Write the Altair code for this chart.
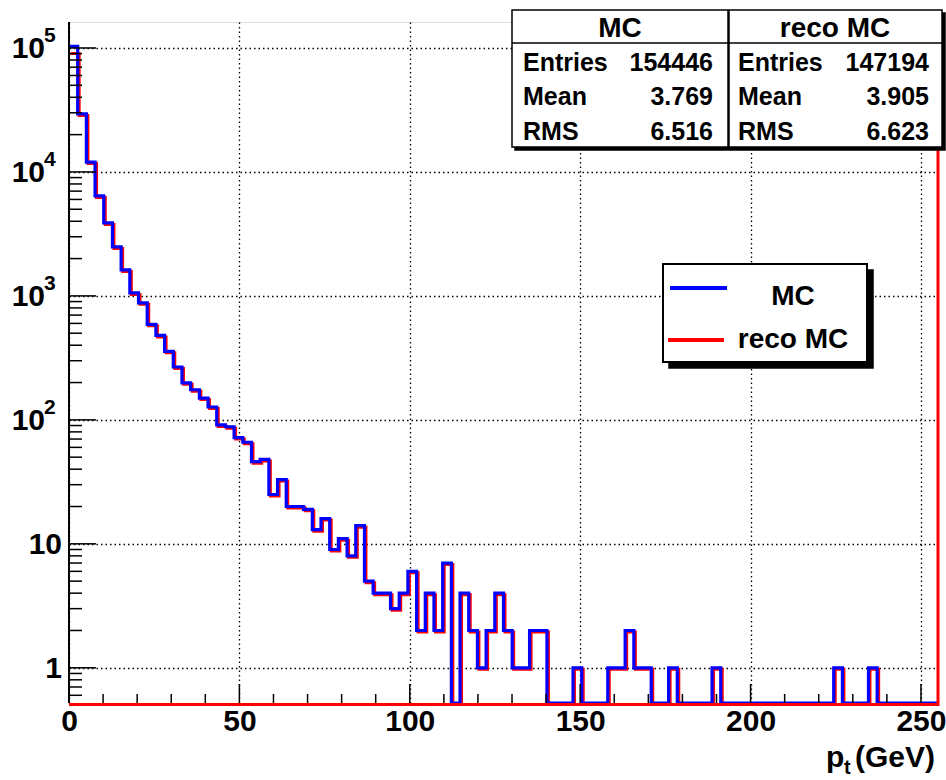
import altair as alt
import pandas as pd
import numpy as np

# ---------------- data ----------------
X_LO, X_HI, N_BINS = 0.0, 255.0, 100
Y_MIN, Y_MAX = 0.52, 1.62e5

mc_counts = [103000, 29400, 12000, 6400, 3880, 2485, 1620, 1057, 879, 590,
             480, 357, 267, 199, 175, 150, 127, 91, 88, 72,
             66, 46, 48, 25, 33, 20, 20, 19, 13, 16,
             9, 11, 8, 14, 5, 4, 4, 3, 4, 6,
             2, 4, 2, 7, 0, 4, 2, 1, 2, 4,
             2, 1, 1, 2, 2, 0, 0, 0, 1, 0,
             0, 0, 1, 1, 2, 1, 1, 0, 0, 1,
             0, 0, 0, 0, 1, 0, 0, 0, 0, 0,
             0, 0, 0, 0, 0, 0, 0, 0, 1, 0,
             0, 0, 1, 0, 0, 0, 0, 0, 0, 0]
reco_counts = [93000] + mc_counts[1:]

series_names = ["MC", "reco MC"]
series_colors = ["#0000ff", "#ff0000"]
stat_labels = ["Entries", "Mean", "RMS"]
mc_stats = ["154446", "3.769", "6.516"]
reco_stats = ["147194", "3.905", "6.623"]

x_major = [0, 50, 100, 150, 200, 250]
x_minor = [v for v in range(10, 255, 10) if v % 50 != 0]
y_major = [1, 10, 100, 1000, 10000, 100000]
y_minor = [k * 10.0 ** e for e in range(-1, 5) for k in range(2, 10)
           if Y_MIN <= k * 10.0 ** e <= Y_MAX]
y_exp = {100: "2", 1000: "3", 10000: "4", 100000: "5"}

FONT = "Liberation Sans"
W, H = 869, 681
PAD_L, PAD_T = 69, 22

edges = np.linspace(X_LO, X_HI, N_BINS + 1)


def step_frame(counts):
    xs, ys = [], []
    for i, c in enumerate(counts):
        v = c if c > 0 else Y_MIN
        xs += [edges[i], edges[i + 1]]
        ys += [v, v]
    xs.append(edges[-1])
    ys.append(Y_MIN)
    return pd.DataFrame({"x": xs, "y": ys, "i": range(len(xs))})


xscale = alt.Scale(domain=[X_LO, X_HI], nice=False, zero=False)
yscale = alt.Scale(type="log", domain=[Y_MIN, Y_MAX], nice=False)

grid_kw = dict(grid=True, gridDash=[1.5, 3], gridColor="black", gridWidth=1.3, gridOpacity=1)
xaxis = alt.Axis(values=x_major, ticks=False, domain=False, title=None, format="d",
                 labelFont=FONT, labelFontSize=30, labelFontWeight="bold", labelColor="black",
                 labelPadding=3, labelFlush=False, labelOverlap=False, **grid_kw)
yaxis = alt.Axis(values=y_major, ticks=False, domain=False, title=None, labels=False, **grid_kw)

red = alt.Chart(step_frame(reco_counts)).mark_line(
    color=series_colors[1], strokeWidth=3, xOffset=1.5, yOffset=1.5
).encode(
    x=alt.X("x:Q", scale=xscale, axis=xaxis),
    y=alt.Y("y:Q", scale=yscale, axis=yaxis),
    order="i:Q",
)
blue = alt.Chart(step_frame(mc_counts)).mark_line(
    color=series_colors[0], strokeWidth=3.2
).encode(
    x=alt.X("x:Q", scale=xscale),
    y=alt.Y("y:Q", scale=yscale),
    order="i:Q",
)

one = pd.DataFrame({"t": [""]})

red_bottom = alt.Chart(one).mark_rule(color="#ff0000", strokeWidth=3).encode(
    x=alt.value(0), x2=alt.value(W), y=alt.value(H + 1.5))
red_right = alt.Chart(pd.DataFrame({"x": [X_HI]})).mark_rule(color="#ff0000", strokeWidth=3).encode(
    x=alt.X("x:Q", scale=xscale), y=alt.value(0), y2=alt.value(H))

# ticks (inside)
ymaj_t = alt.Chart(pd.DataFrame({"v": y_major})).mark_rule(color="black", strokeWidth=1.5).encode(
    y=alt.Y("v:Q", scale=yscale), x=alt.value(0), x2=alt.value(27))
ymin_t = alt.Chart(pd.DataFrame({"v": y_minor})).mark_rule(color="black", strokeWidth=1.5).encode(
    y=alt.Y("v:Q", scale=yscale), x=alt.value(0), x2=alt.value(13))
xmaj_t = alt.Chart(pd.DataFrame({"v": x_major})).mark_rule(color="black", strokeWidth=1.5).encode(
    x=alt.X("v:Q", scale=xscale), y=alt.value(H), y2=alt.value(H - 19))
xmin_t = alt.Chart(pd.DataFrame({"v": x_minor})).mark_rule(color="black", strokeWidth=1.5).encode(
    x=alt.X("v:Q", scale=xscale), y=alt.value(H), y2=alt.value(H - 9))

left_axis = alt.Chart(one).mark_rule(color="black", strokeWidth=2).encode(
    x=alt.value(0), y=alt.value(0), y2=alt.value(H))

# y labels
ylab_df = pd.DataFrame({
    "v": y_major,
    "base": ["1" if v == 1 else "10" for v in y_major],
    "exp": [y_exp.get(v, "") for v in y_major],
})
ylab_plain = alt.Chart(ylab_df).transform_filter("datum.exp == ''").mark_text(
    align="right", baseline="middle", font=FONT, fontSize=30, fontWeight="bold", color="black", dy=1
).encode(y=alt.Y("v:Q", scale=yscale), x=alt.value(-7), text="base:N")
ylab_base = alt.Chart(ylab_df).transform_filter("datum.exp != ''").mark_text(
    align="right", baseline="middle", font=FONT, fontSize=30, fontWeight="bold", color="black", dy=1
).encode(y=alt.Y("v:Q", scale=yscale), x=alt.value(-24), text="base:N")
ylab_exp = alt.Chart(ylab_df).transform_filter("datum.exp != ''").mark_text(
    align="left", baseline="middle", font=FONT, fontSize=21, fontWeight="bold", color="black", dy=-12
).encode(y=alt.Y("v:Q", scale=yscale), x=alt.value(-25), text="exp:N")


def txt(s, x, y, size=25, align="left", baseline="middle", color="black"):
    return alt.Chart(pd.DataFrame({"t": [s]})).mark_text(
        align=align, baseline=baseline, font=FONT, fontSize=size, fontWeight="bold", color=color
    ).encode(text="t:N", x=alt.value(x), y=alt.value(y))


def box(x1, y1, x2, y2, fill="white", stroke="black", sw=1.5):
    return alt.Chart(one).mark_rect(fill=fill, stroke=stroke, strokeWidth=sw).encode(
        x=alt.value(x1), x2=alt.value(x2), y=alt.value(y1), y2=alt.value(y2))


def hline(x1, x2, y, color="black", sw=1.5):
    return alt.Chart(one).mark_rule(color=color, strokeWidth=sw).encode(
        x=alt.value(x1), x2=alt.value(x2), y=alt.value(y))


# axis title p_t(GeV)
title_layers = [
    txt("(GeV)", 866, 745, size=30, align="right", baseline="alphabetic"),
    txt("t", 775, 752, size=20, align="left", baseline="alphabetic"),
    txt("p", 757, 745, size=30, align="left", baseline="alphabetic"),
]

# stat boxes
stats = [box(446, -9, 876, 128, fill="black", stroke="black"),
         box(443, -12, 659, 125), box(660, -12, 873, 125),
         hline(443, 659, 21), hline(660, 873, 21),
         txt(series_names[0], 551, 7, size=28, align="center"),
         txt(series_names[1], 766, 7, size=28, align="center")]
row_y = [41, 75, 110]
for lab, a, b, yy in zip(stat_labels, mc_stats, reco_stats, row_y):
    stats += [txt(lab, 454, yy), txt(a, 644, yy, align="right"),
              txt(lab, 669, yy), txt(b, 860, yy, align="right")]

# legend
legend = [box(600, 248, 804, 346, fill="black", stroke="black"),
          box(594, 242, 798, 340, sw=2),
          hline(601, 658, 266, color=series_colors[0], sw=4),
          hline(599, 655, 318, color=series_colors[1], sw=4),
          txt(series_names[0], 724, 275, size=28, align="center"),
          txt(series_names[1], 724, 318, size=28, align="center")]

chart = alt.layer(
    red, blue, red_bottom, red_right, ymaj_t, ymin_t, xmaj_t, xmin_t, left_axis,
    ylab_plain, ylab_base, ylab_exp, *title_layers, *stats, *legend
).properties(
    width=W, height=H,
    autosize=alt.AutoSizeParams(type="none"),
    padding={"left": PAD_L, "top": PAD_T, "right": 946 - PAD_L - W, "bottom": 780 - PAD_T - H},
).configure_view(
    stroke="black", strokeWidth=1.5
).configure(background="white")

chart.save("out.html", embed_options={"renderer": "svg", "actions": False})
